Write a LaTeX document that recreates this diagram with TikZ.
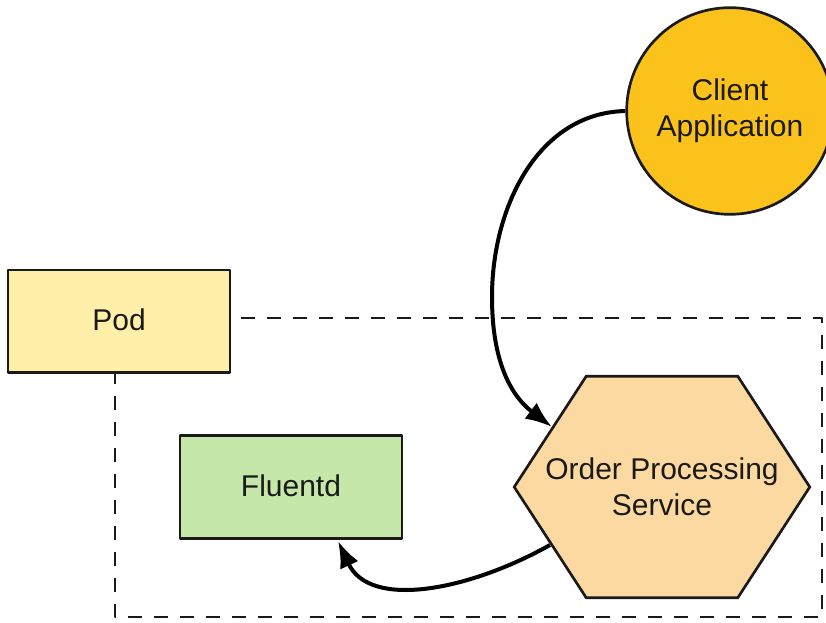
\documentclass[tikz,border=0pt]{standalone}
\usepackage{fontspec}
\setmainfont{Liberation Sans}
\usetikzlibrary{arrows.meta,backgrounds}
\definecolor{lgInk}{HTML}{1A1A1A}
\definecolor{lgClient}{HTML}{FBC21C}
\definecolor{lgPod}{HTML}{FFEFA8}
\definecolor{lgFluent}{HTML}{C6E7AA}
\definecolor{lgService}{HTML}{FDD9A2}
\tikzset{
  lg diagram/.style={x=0.75pt, y=-0.75pt, font=\fontsize{22.5}{27}\selectfont,
    text=lgInk, line join=round},
  lg box/.style={draw=lgInk, line width=2pt, minimum width=166.5pt,
    minimum height=77pt, align=center, inner sep=0pt},
  lg client/.style={circle, draw=lgInk, fill=lgClient, line width=2pt,
    minimum size=155pt, align=center, inner sep=0pt},
  lg service/.style={minimum width=221.25pt, minimum height=165.75pt,
    align=center, inner sep=0pt},
  lg hex/.style={draw=lgInk, fill=lgService, line width=2pt},
  lg arrow/.style={-{Latex[length=20pt,width=15pt]}, draw=black, line width=3pt},
  lg boundary/.style={draw=lgInk, line width=2.1pt, dash pattern=on 10.5pt off 9pt}
}

\begin{document}
\begin{tikzpicture}[lg diagram]
\useasboundingbox (0,0) rectangle (826,623);
% pod boundary
\draw[lg boundary] (115,318) rectangle (822,617);
\node[lg box, fill=lgPod] (pod) at (119,321.5) {\raisebox{3pt}{Pod}};
\node[lg box, fill=lgFluent] (fluentd) at (291,487) {\raisebox{2pt}{Fluentd}};
\node[lg client] (client) at (730,111) {Client\\Application};
\node[lg service] (ops) at (662,487) {Order Processing\\Service\rule{0pt}{0pt}};
\begin{scope}[on background layer]
\draw[lg hex] (ops.west) -- ([xshift=54pt]ops.north west) -- ([xshift=-54pt]ops.north east)
  -- (ops.east) -- ([xshift=-54pt]ops.south east) -- ([xshift=54pt]ops.south west) -- cycle;
\end{scope}
\coordinate (opsin) at (552,427);
\coordinate (opsout) at (550,545);
\coordinate (fluentdin) at (338,541);
% requests from the client
\draw[lg arrow] (client.west) .. controls (538,113) and (492,207) .. (492,297)
  .. controls (492,360) and (510,395) .. (opsin);
% logs shipped to fluentd
\draw[lg arrow] (opsout) .. controls (470,590) and (370,610) .. (fluentdin);
\end{tikzpicture}
\end{document}
